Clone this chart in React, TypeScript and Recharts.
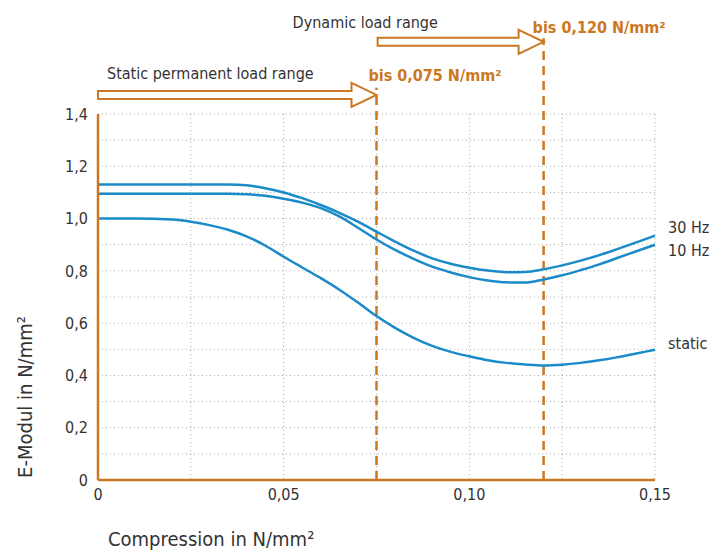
import React from 'react';
import { LineChart, Line, XAxis, YAxis, CartesianGrid, ReferenceLine, LabelList } from 'recharts';

const compression = [0, 0.01, 0.02, 0.025, 0.03, 0.035, 0.04, 0.045, 0.05, 0.055, 0.06, 0.065, 0.07, 0.075, 0.08, 0.085, 0.09, 0.095, 0.1, 0.105, 0.11, 0.115, 0.12, 0.125, 0.13, 0.135, 0.14, 0.145, 0.15];
const hz30 = [1.13, 1.13, 1.13, 1.13, 1.13, 1.13, 1.127, 1.116, 1.1, 1.078, 1.052, 1.022, 0.988, 0.95, 0.912, 0.877, 0.848, 0.827, 0.812, 0.801, 0.795, 0.796, 0.806, 0.821, 0.839, 0.86, 0.884, 0.909, 0.935];
const hz10 = [1.095, 1.095, 1.095, 1.095, 1.095, 1.095, 1.093, 1.087, 1.076, 1.061, 1.04, 1.008, 0.965, 0.92, 0.88, 0.846, 0.816, 0.794, 0.776, 0.763, 0.756, 0.755, 0.767, 0.783, 0.803, 0.825, 0.85, 0.875, 0.9];
const staticE = [1.0, 1.0, 0.996, 0.988, 0.975, 0.957, 0.932, 0.897, 0.854, 0.813, 0.772, 0.728, 0.679, 0.627, 0.582, 0.544, 0.513, 0.49, 0.473, 0.458, 0.448, 0.442, 0.438, 0.441, 0.448, 0.458, 0.47, 0.484, 0.498];

const xTicks = [0, 0.025, 0.05, 0.075, 0.1, 0.125, 0.15];
const yTicks = [0, 0.1, 0.2, 0.3, 0.4, 0.5, 0.6, 0.7, 0.8, 0.9, 1.0, 1.1, 1.2, 1.3, 1.4];

const staticLimit = 0.075;
const dynamicLimit = 0.12;

const data = compression.map((c, i) => ({ c, hz30: hz30[i], hz10: hz10[i], stat: staticE[i] }));

const ORANGE = '#cc7722';
const BLUE = '#1a8bc8';
const FONT = "'Liberation Sans Narrow', 'DejaVu Sans Condensed', 'Open Sans', sans-serif";
const TEXT = '#333';

const fmtX = (v: number) => {
  if (v === 0) return '0';
  if (Math.round(v * 1000) % 50 !== 0) return '';
  return v.toFixed(2).replace('.', ',');
};
const fmtY = (v: number) => {
  if (v === 0) return '0';
  if (Math.round(v * 10) % 2 !== 0) return '';
  return v.toFixed(1).replace('.', ',');
};

// hollow arrow drawn along a ReferenceLine segment, with its two captions
const makeArrow = (title: string, limit: string, titleDx: number, titleDy: number, limitDx: number, limitDy: number) => (p: any) => {
  const { x1, x2, y1 } = p;
  const y = y1;
  const h = 4;
  const head = 12;
  const len = 25;
  const pts = [
    [x1, y - h], [x2 - len, y - h], [x2 - len, y - head], [x2, y],
    [x2 - len, y + head], [x2 - len, y + h], [x1, y + h],
  ].map((q) => q.join(',')).join(' ');
  return (
    <g>
      <polygon points={pts} fill="#fff" stroke={ORANGE} strokeWidth={2} />
      <text x={x1 + titleDx} y={y + titleDy} fontSize={16} fill={TEXT} fontFamily={FONT}>{title}</text>
      <text x={x2 + limitDx} y={y + limitDy} fontSize={16} fontWeight="bold" fill={ORANGE} fontFamily={FONT}>{limit}</text>
    </g>
  );
};

const endLabel = (text: string, dy: number) => (props: any) => {
  const { x, y, index } = props;
  if (index !== compression.length - 1) return null;
  return (
    <text x={x + 13} y={y + dy} fontSize={16} fill={TEXT} fontFamily={FONT} dominantBaseline="central">{text}</text>
  );
};

export default function App() {
  return (
    <div style={{ position: 'absolute', left: 0, top: 0, width: 714, height: 550, background: '#fff' }}>
      <LineChart width={714} height={550} data={data} margin={{ top: 114, right: 59, bottom: 30, left: 38 }}>
        <CartesianGrid stroke="#aaa" strokeDasharray="1 3" />
        <XAxis
          dataKey="c"
          type="number"
          domain={[0, 0.15]}
          ticks={xTicks}
          tickFormatter={fmtX}
          tickLine={false}
          tickSize={0}
          tickMargin={9}
          height={40}
          axisLine={{ stroke: ORANGE, strokeWidth: 2.5 }}
          tick={{ fontSize: 16, fill: TEXT, fontFamily: FONT }}
          label={(p: any) => (
            <text x={p.viewBox.x + 10} y={p.viewBox.y + 66} fontSize={20} fill={TEXT} fontFamily={FONT}>Compression in N/mm²</text>
          )}
        />
        <YAxis
          type="number"
          domain={[0, 1.4]}
          ticks={yTicks}
          tickFormatter={fmtY}
          tickLine={false}
          tickSize={0}
          tickMargin={10}
          width={60}
          axisLine={{ stroke: ORANGE, strokeWidth: 2.5 }}
          tick={{ fontSize: 16, fill: TEXT, fontFamily: FONT }}
          label={() => (
            <text x={25} y={397} transform="rotate(-90 25 397)" textAnchor="middle" dominantBaseline="central" fontSize={20} fill={TEXT} fontFamily={FONT}>E-Modul in N/mm²</text>
          )}
        />
        <ReferenceLine segment={[{ x: staticLimit, y: 0 }, { x: staticLimit, y: 1.5 }]} stroke={ORANGE} strokeWidth={2.5} strokeDasharray="9 6" ifOverflow="visible" />
        <ReferenceLine segment={[{ x: dynamicLimit, y: 0 }, { x: dynamicLimit, y: 1.69 }]} stroke={ORANGE} strokeWidth={2.5} strokeDasharray="9 6" ifOverflow="visible" />
        <ReferenceLine
          segment={[{ x: 0, y: 1.473 }, { x: staticLimit, y: 1.473 }]}
          ifOverflow="visible"
          shape={makeArrow('Static permanent load range', 'bis 0,075 N/mm²', 9, -16, -8, -14)}
        />
        <ReferenceLine
          segment={[{ x: staticLimit + 0.0003, y: 1.676 }, { x: dynamicLimit, y: 1.676 }]}
          ifOverflow="visible"
          shape={makeArrow('Dynamic load range', 'bis 0,120 N/mm²', -85, -14, -11, -9)}
        />
        <Line type="monotone" dataKey="hz30" stroke={BLUE} strokeWidth={2.5} dot={false} isAnimationActive={false}>
          <LabelList dataKey="hz30" content={endLabel('30 Hz', -8)} />
        </Line>
        <Line type="monotone" dataKey="hz10" stroke={BLUE} strokeWidth={2.5} dot={false} isAnimationActive={false}>
          <LabelList dataKey="hz10" content={endLabel('10 Hz', 6)} />
        </Line>
        <Line type="monotone" dataKey="stat" stroke={BLUE} strokeWidth={2.5} dot={false} isAnimationActive={false}>
          <LabelList dataKey="stat" content={endLabel('static', -6)} />
        </Line>
      </LineChart>
    </div>
  );
}
